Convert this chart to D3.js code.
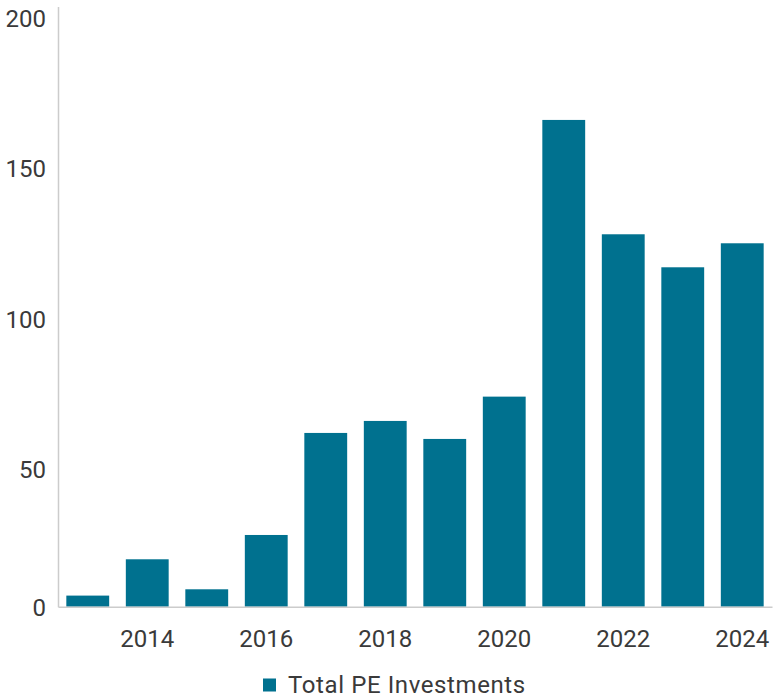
<!DOCTYPE html>
<html>
<head>
<meta charset="utf-8">
<script src="https://cdn.jsdelivr.net/npm/d3@7"></script>
<style>
  html, body { margin: 0; padding: 0; background: #fff; }
  svg { display: block; }
  text { font-family: Roboto, "Noto Sans", sans-serif; fill: #3a3a3a; }
</style>
</head>
<body>
<svg id="chart" width="780" height="700"></svg>
<script>
const years = [2013, 2014, 2015, 2016, 2017, 2018, 2019, 2020, 2021, 2022, 2023, 2024];
const investments = [3.7, 15.8, 5.8, 23.9, 57.9, 61.9, 55.9, 70, 162.2, 124.1, 113.1, 121.1];
const yTicks = [0, 50, 100, 150, 200];
const xTickYears = [2014, 2016, 2018, 2020, 2022, 2024];
const seriesName = "Total PE Investments";

(function () {
const svg = d3.select("#chart");
const mLeft = 58, mRight = 772, mTop = 6.5, mBottom = 606.7;
const color = "#00718f";

const x = d3.scaleBand().domain(years).range([mLeft, mRight]).paddingInner(0.28).paddingOuter(0.14);
const y = d3.scaleLinear().domain([0, 200]).range([mBottom, mTop]);

// bars
svg.append("g").selectAll("rect").data(years).join("rect")
  .attr("x", d => x(d))
  .attr("width", x.bandwidth())
  .attr("y", (d, i) => y(investments[i]))
  .attr("height", (d, i) => y(0) - y(investments[i]))
  .attr("fill", color);

// y axis
const yAxis = svg.append("g").attr("transform", `translate(${mLeft},0)`)
  .call(d3.axisLeft(y).tickValues(yTicks).tickSize(0).tickPadding(12));
yAxis.select(".domain").attr("stroke", "#cccccc").attr("stroke-width", 1.5);
yAxis.selectAll("text")
  .attr("font-size", 24)
  .attr("dy", d => d === 0 ? "0.35em" : "0.85em")
  .style("font-family", "Roboto, sans-serif")
  .attr("fill", "#3a3a3a");

// x axis
const xAxis = svg.append("g").attr("transform", `translate(0,${mBottom})`)
  .call(d3.axisBottom(x).tickValues(xTickYears).tickSize(0).tickSizeOuter(0).tickPadding(0));
xAxis.select(".domain").attr("stroke", "#cccccc").attr("stroke-width", 1.5);
xAxis.selectAll("text")
  .attr("font-size", 24)
  .attr("y", 32)
  .attr("dy", "0.35em")
  .style("font-family", "Roboto, sans-serif")
  .attr("fill", "#3a3a3a");

// legend
const lg = svg.append("g").attr("transform", "translate(263,685)");
lg.append("rect").attr("x", 0).attr("y", -6.5).attr("width", 13).attr("height", 13).attr("fill", color);
lg.append("text").attr("x", 25).attr("y", 0).attr("dy", "0.35em")
  .attr("font-size", 24).attr("letter-spacing", 0.6).text(seriesName);
})();
</script>
</body>
</html>
